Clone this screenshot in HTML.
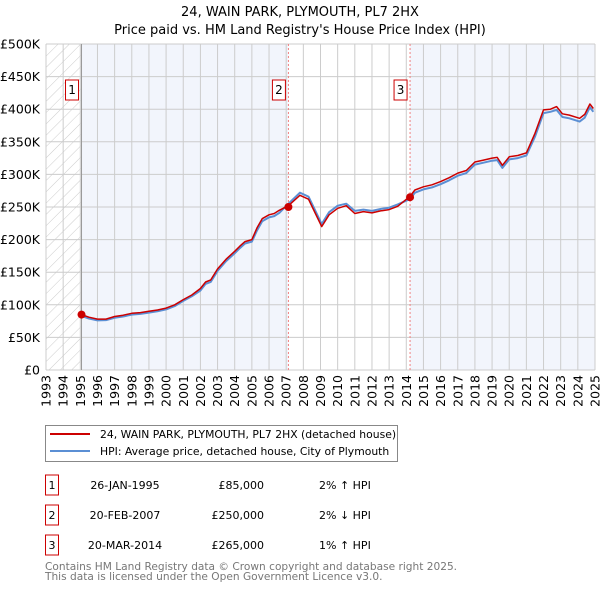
<!DOCTYPE html>
<html><head><meta charset="utf-8"><style>
body{margin:0;background:#fff;font-family:"Liberation Sans","DejaVu Sans",sans-serif;}
svg text{font-family:"DejaVu Sans","Liberation Sans",sans-serif;}
</style></head><body>
<svg id="c" width="600" height="590" xmlns="http://www.w3.org/2000/svg">
<defs><pattern id="hatch" width="8" height="8" patternUnits="userSpaceOnUse" patternTransform="rotate(45)"><line x1="0" y1="0" x2="0" y2="8" stroke="#ccc" stroke-width="1"/></pattern></defs>
<text x="300" y="16" text-anchor="middle" font-size="13">24, WAIN PARK, PLYMOUTH, PL7 2HX</text>
<text x="300" y="34" text-anchor="middle" font-size="13">Price paid vs. HM Land Registry's House Price Index (HPI)</text>
<g id="plot"></g>
<g>
<rect x="45.5" y="425.5" width="352" height="36" fill="#fff" stroke="#888"/>
<line x1="50" y1="434" x2="90" y2="434" stroke="#cc0000" stroke-width="2"/>
<text x="100" y="438" font-size="10.8">24, WAIN PARK, PLYMOUTH, PL7 2HX (detached house)</text>
<line x1="50" y1="451" x2="90" y2="451" stroke="#5b8fd4" stroke-width="2"/>
<text x="100" y="455" font-size="10.8">HPI: Average price, detached house, City of Plymouth</text>
</g>
<g id="table" font-size="11"></g>
<text x="45" y="570" font-size="10.6" fill="#777">Contains HM Land Registry data © Crown copyright and database right 2025.</text>
<text x="45" y="580" font-size="10.6" fill="#777">This data is licensed under the Open Government Licence v3.0.</text>
</svg>
<script>
const yearTicks=[1993,1994,1995,1996,1997,1998,1999,2000,2001,2002,2003,2004,2005,2006,2007,2008,2009,2010,2011,2012,2013,2014,2015,2016,2017,2018,2019,2020,2021,2022,2023,2024,2025];
const valueTicks=[0,50000,100000,150000,200000,250000,300000,350000,400000,450000,500000];
const valueTickLabels=["£0","£50K","£100K","£150K","£200K","£250K","£300K","£350K","£400K","£450K","£500K"];
const seriesYears=[1995.07,1995.5,1996,1996.5,1997,1997.5,1998,1998.5,1999,1999.5,2000,2000.5,2001,2001.5,2002,2002.3,2002.6,2003,2003.5,2004,2004.3,2004.6,2005,2005.3,2005.6,2006,2006.3,2006.6,2007.13,2007.8,2008.3,2008.7,2009.07,2009.5,2010,2010.5,2011,2011.5,2012,2012.5,2013,2013.5,2014.2,2014.5,2015,2015.5,2016,2016.5,2017,2017.5,2018,2018.5,2019,2019.3,2019.6,2020,2020.5,2021,2021.5,2022,2022.4,2022.76,2023.1,2023.5,2024.1,2024.4,2024.7,2024.9];
const propertyValues=[85000,81000,78000,78000,82000,84000,87000,88000,90000,92000,95000,100000,108000,115000,125000,135000,138000,155000,170000,182000,190000,197000,200000,218000,232000,238000,240000,245000,252000,268000,262000,240000,220000,238000,248000,252000,240000,243000,241000,244000,246000,251000,266000,276000,281000,284000,289000,295000,302000,306000,319000,322000,325000,326000,314000,327000,329000,333000,363000,399000,400000,404000,393000,391000,386000,392000,408000,401000];
const hpiValues=[83000,79000,76000,76500,80000,82000,85000,86000,88000,90000,93000,98000,106000,113000,122000,132000,135000,152000,167000,179000,187000,194000,197000,214000,228000,234000,236000,241000,255000,272000,266000,244000,224000,242000,252000,255000,244000,246000,244000,247000,249000,254000,262000,272000,277000,280000,285000,291000,298000,302000,315000,318000,321000,322000,310000,323000,325000,329000,358000,394000,396000,399000,388000,386000,381000,387000,403000,396000];
const saleYears=[1995.07,2007.13,2014.22];
const saleValues=[85000,250000,265000];
const saleLabels=["1","2","3"];
const saleDates=["26-JAN-1995","20-FEB-2007","20-MAR-2014"];
const salePrices=["£85,000","£250,000","£265,000"];
const saleHpi=["2% ↑ HPI","2% ↓ HPI","1% ↑ HPI"];

const X0=46,X1=595,Y0=370,Y1=44;
const xs=y=>X0+(y-1993)/(2025-1993)*(X1-X0);
const ys=v=>Y0-v/500000*(Y0-Y1);
const NS="http://www.w3.org/2000/svg";
const plot=document.getElementById('plot');
function mk(tag,attrs,parent){const e=document.createElementNS(NS,tag);for(const k in attrs)e.setAttribute(k,attrs[k]);(parent||plot).appendChild(e);return e;}
let r=mk('rect',{x:X0,y:Y1,width:X1-X0,height:Y0-Y1,fill:'#fff'});


r=mk('rect',{x:X0,y:Y1,width:xs(saleYears[0])-X0,height:Y0-Y1,fill:'url(#hatch)'});


r=mk('rect',{x:xs(saleYears[0]),y:Y1,width:xs(saleYears[1])-xs(saleYears[0]),height:Y0-Y1,fill:'#f2f5fc'});


r=mk('rect',{x:xs(saleYears[2]),y:Y1,width:X1-xs(saleYears[2]),height:Y0-Y1,fill:'#f2f5fc'});


yearTicks.forEach(y=>{const l=mk('line',{x1:xs(y),x2:xs(y),y1:Y1,y2:Y0,stroke:'#ccc'});


const t=mk('text',{x:0,y:0,'font-size':12.5,'text-anchor':'end',transform:`translate(${xs(y)+4.5},${Y0+5}) rotate(-90)`});t.textContent=y;

});
valueTicks.forEach((v,i)=>{const l=mk('line',{x1:X0,x2:X1,y1:ys(v),y2:ys(v),stroke:'#ccc'});


const t=mk('text',{x:40,y:ys(v)+4.5,'font-size':12.5,'text-anchor':'end'});t.textContent=valueTickLabels[i];

});
let bl=mk('line',{x1:xs(saleYears[0]),x2:xs(saleYears[0]),y1:Y1,y2:Y0,stroke:'#999'});


saleYears.slice(1).forEach(y=>{const l=mk('line',{x1:xs(y),x2:xs(y),y1:Y1,y2:Y0,stroke:'#f08080','stroke-dasharray':'2,2'});

});
const pts=a=>seriesYears.map((y,i)=>xs(y).toFixed(1)+','+ys(a[i]).toFixed(1)).join(' ');
let p=mk('polyline',{points:pts(hpiValues),fill:'none',stroke:'#5b8fd4','stroke-width':2,'stroke-linejoin':'round'});


p=mk('polyline',{points:pts(propertyValues),fill:'none',stroke:'#cc0000','stroke-width':1.5,'stroke-linejoin':'round'});


saleYears.forEach((y,i)=>{const c=mk('circle',{cx:xs(y),cy:ys(saleValues[i]),r:4,fill:'#cc0000'});


const bx=xs(y)-16;const b=mk('rect',{x:bx,y:80,width:13,height:20,fill:'#fff',stroke:'#cc0000'});


const t=mk('text',{x:bx+6.5,y:94,'font-size':12,'text-anchor':'middle'});t.textContent=saleLabels[i];

});
const tb=document.getElementById('table');
saleLabels.forEach((s,i)=>{const y=475+i*30;
const b=mk('rect',{x:45.5,y:y,width:13,height:20,fill:'#fff',stroke:'#cc0000'},tb);


const cells=[[52,s,'middle'],[125,saleDates[i],'middle'],[264,salePrices[i],'end'],[319,saleHpi[i],'start']];
cells.forEach(c=>{const t=mk('text',{x:c[0],y:y+14,'text-anchor':c[2]},tb);t.textContent=c[1];

});});
</script>
</body></html>
